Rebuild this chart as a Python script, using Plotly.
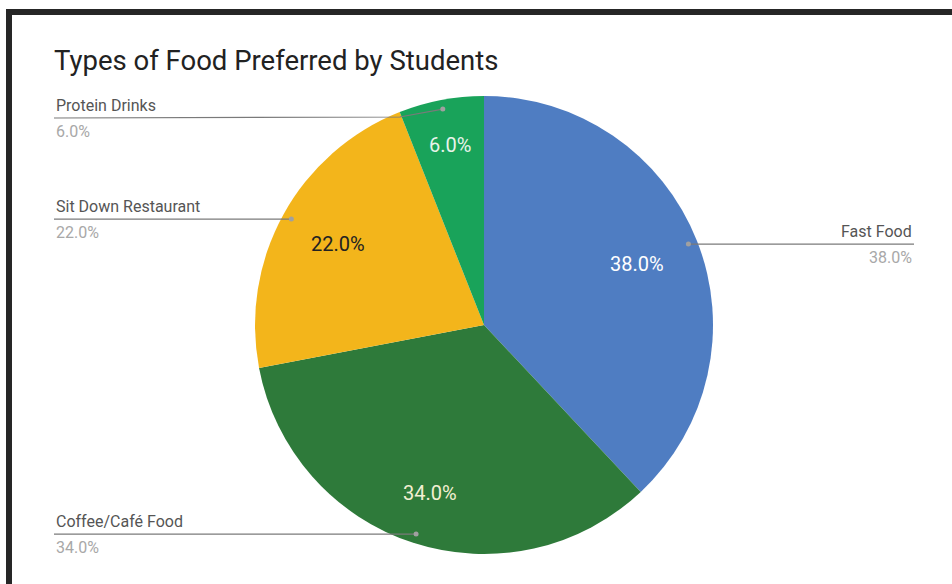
import math
import plotly.graph_objects as go

# ---- data ----
categories = ["Fast Food", "Coffee/Café Food", "Sit Down Restaurant", "Protein Drinks"]
values = [38.0, 34.0, 22.0, 6.0]
slice_colors = ["#4f7dc2", "#2e7a3a", "#f3b51b", "#19a35a"]
inside_text_colors = ["#ffffff", "#f3efd2", "#222222", "#e8f3ea"]
title_text = "Types of Food Preferred by Students"

# ---- layout constants (pixels) ----
W, H = 952, 584
CX, CY, R = 484, 325, 229
inside_label_radius = [0.72, 0.77, 0.73, 0.80]


def px(x):
    return x / W


def py(y):
    return 1 - y / H


fig = go.Figure()
fig.add_trace(go.Pie(
    labels=categories,
    values=values,
    sort=False,
    direction="clockwise",
    rotation=0,
    marker=dict(colors=slice_colors, line=dict(width=0)),
    textinfo="none",
    hoverinfo="label+percent",
    showlegend=False,
    domain=dict(x=[px(CX - R), px(CX + R)], y=[py(CY + R), py(CY - R)]),
))

shapes = []
annotations = []
total = sum(values)
cum = 0.0
for name, v, tc, rf in zip(categories, values, inside_text_colors, inside_label_radius):
    mid = (cum + v / 2) / total * 2 * math.pi
    cum += v
    pct = f"{v / total * 100:.1f}%"
    # inside label
    tx = CX + rf * R * math.sin(mid)
    ty = CY - rf * R * math.cos(mid)
    annotations.append(dict(x=px(tx), y=py(ty), xref="paper", yref="paper", text=pct,
                            showarrow=False, xanchor="center", yanchor="middle",
                            font=dict(family="Roboto", size=20, color=tc)))
    # leader dot + line + outside labels
    dx = CX + 0.96 * R * math.sin(mid)
    dy = CY - 0.96 * R * math.cos(mid)
    ly = max(dy, 118)
    right = math.sin(mid) > 0
    if right:
        x_end = 914
        path = f"M {px(dx)} {py(dy)} L {px(x_end)} {py(ly)}"
        xanchor = "right"
    else:
        x_end = 54
        path = (f"M {px(x_end)} {py(ly)} L {px(dx - 43)} {py(ly - 1 if ly != dy else ly)} "
                f"L {px(dx)} {py(dy)}")
        xanchor = "left"
    shapes.append(dict(type="path", xref="paper", yref="paper", path=path,
                       line=dict(color="#7a7a7a", width=1.2)))
    shapes.append(dict(type="circle", xref="paper", yref="paper",
                       x0=px(dx - 2.5), x1=px(dx + 2.5), y0=py(dy + 2.5), y1=py(dy - 2.5),
                       fillcolor="#a0a0a0", line=dict(width=0)))
    annotations.append(dict(x=px(x_end), y=py(ly - 13), xref="paper", yref="paper",
                            text=name, showarrow=False, xanchor=xanchor, yanchor="middle",
                            font=dict(family="Roboto", size=16, color="#555555")))
    annotations.append(dict(x=px(x_end), y=py(ly + 13), xref="paper", yref="paper",
                            text=pct, showarrow=False, xanchor=xanchor, yanchor="middle",
                            font=dict(family="Roboto", size=16, color="#a8a8a8")))

# frame bars
shapes.append(dict(type="rect", xref="paper", yref="paper", x0=px(6), x1=1, y0=py(15), y1=py(9),
                   fillcolor="#262626", line=dict(width=0), layer="above"))
shapes.append(dict(type="rect", xref="paper", yref="paper", x0=px(6), x1=px(12), y0=0, y1=py(9),
                   fillcolor="#262626", line=dict(width=0), layer="above"))

fig.update_layout(
    width=W, height=H,
    margin=dict(l=0, r=0, t=0, b=0),
    paper_bgcolor="white",
    plot_bgcolor="white",
    title=dict(text=title_text, x=px(54), xanchor="left", xref="paper",
               y=py(60), yanchor="middle", yref="paper",
               font=dict(family="Roboto", size=27.5, color="#222222")),
    shapes=shapes,
    annotations=annotations,
)

fig.write_html("out.html", config={"displayModeBar": False},
               post_script="document.body.style.margin='0';")
